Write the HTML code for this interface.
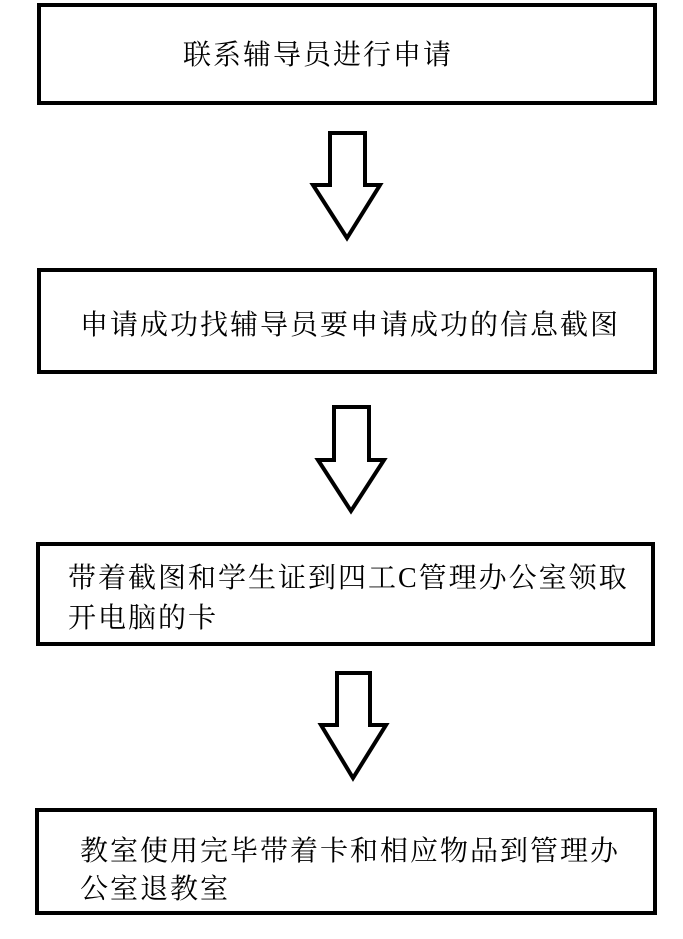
<!DOCTYPE html>
<html><head><meta charset="utf-8"><style>
body{margin:0;width:683px;height:939px;background:#fff;position:relative;overflow:hidden}
.b{position:absolute;border:4px solid #000;box-sizing:border-box}
.t{position:absolute;font-family:"Liberation Serif","Noto Serif CJK SC",serif;font-size:28px;letter-spacing:2px;color:#000;white-space:nowrap;line-height:38px}
svg{position:absolute;left:0;top:0}
</style></head><body>
<div class="b" style="left:37px;top:3px;width:620px;height:102px"></div>
<div class="t" style="left:183px;top:37px">联系辅导员进行申请</div>
<div class="b" style="left:37px;top:268px;width:620px;height:106px"></div>
<div class="t" style="left:80px;top:307px">申请成功找辅导员要申请成功的信息截图</div>
<div class="b" style="left:36px;top:542px;width:619px;height:104px"></div>
<div class="t" style="left:68px;top:559px;line-height:40px">带着截图和学生证到四工C管理办公室领取<br>开电脑的卡</div>
<div class="b" style="left:35px;top:808px;width:622px;height:107px"></div>
<div class="t" style="left:80px;top:833px">教室使用完毕带着卡和相应物品到管理办<br>公室退教室</div>
<svg width="683" height="939">
<g fill="#fff" stroke="#000" stroke-width="4" stroke-linejoin="miter">
<polygon points="330,133 365,133 365,185 380,185 347,238 313,185 330,185"/>
<polygon points="334,407 369,407 369,460 384,460 351,511 318,460 334,460"/>
<polygon points="337,673 370,673 370,725 386,725 353,778 321,725 337,725"/>
</g></svg>
</body></html>
